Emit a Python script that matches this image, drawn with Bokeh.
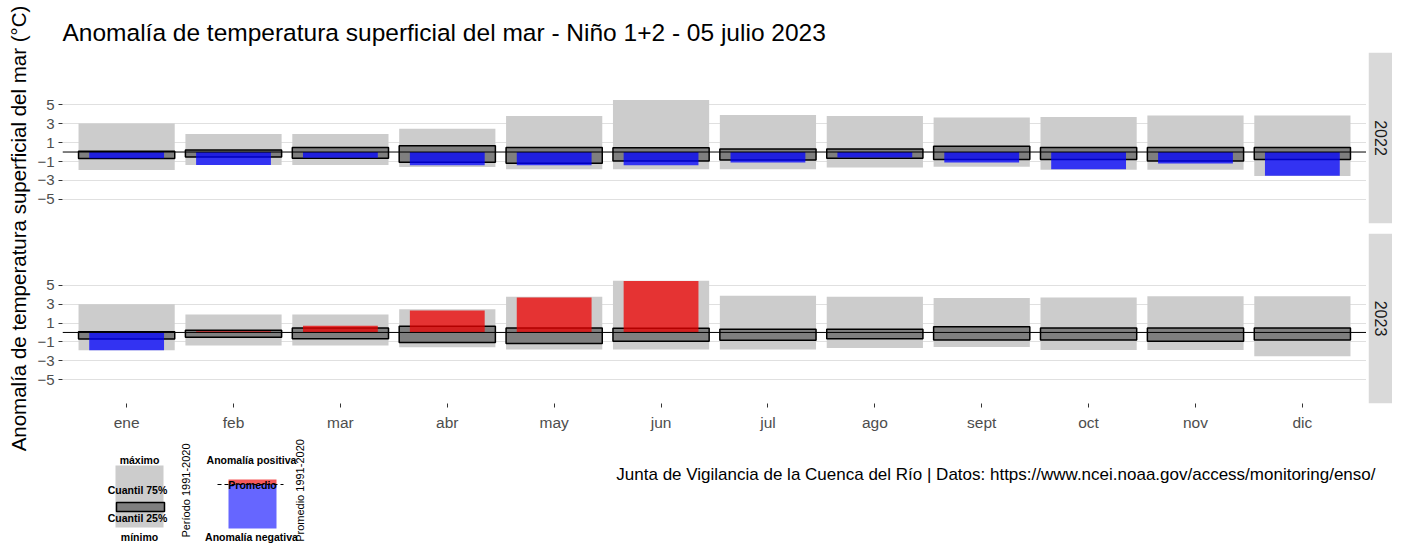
import math
from bokeh.plotting import figure
from bokeh.models import Range1d, FactorRange, FixedTicker, Span, Spacer
from bokeh.layouts import row, column
from bokeh.embed import file_html
from bokeh.resources import INLINE
from bokeh.core.properties import value

FONT = "Liberation Sans"

# ---------------- data ----------------
months = ["ene", "feb", "mar", "abr", "may", "jun",
          "jul", "ago", "sept", "oct", "nov", "dic"]
years = ["2022", "2023"]
# climatology 1991-2020 (range and quartiles)
clim_max = [3.0, 1.9, 1.9, 2.45, 3.8, 5.48, 3.9, 3.8, 3.65, 3.7, 3.85, 3.85]
clim_min = [-1.9, -1.38, -1.38, -1.58, -1.82, -1.82, -1.82, -1.64, -1.54, -1.86, -1.86, -2.53]
q75 = [0.08, 0.22, 0.48, 0.65, 0.48, 0.45, 0.33, 0.33, 0.61, 0.48, 0.48, 0.48]
q25 = [-0.69, -0.52, -0.66, -1.08, -1.18, -0.94, -0.83, -0.66, -0.8, -0.8, -0.94, -0.8]
# monthly anomalies
anom_2022 = [-0.65, -1.38, -0.6, -1.4, -1.4, -1.4, -1.11, -0.58, -1.11, -1.82, -1.22, -2.49]
anom_2023 = [-1.9, 0.12, 0.72, 2.32, 3.7, 5.46]
y_ticks = [5, 3, 1, -1, -3, -5]

title_text = "Anomalía de temperatura superficial del mar - Niño 1+2 - 05 julio 2023"
ylabel_text = "Anomalía de temperatura superficial del mar (°C)"
caption_text = ("Junta de Vigilancia de la Cuenca del Río | Datos: "
                "https://www.ncei.noaa.gov/access/monitoring/enso/")

GRAY_RANGE = "#cccccc"
GRAY_BOX = "#7f7f7f"
BLUE = "#0000ff"
RED = "#ee0000"

PANEL_W = 1304   # frame width of each facet panel
LEFT_B = 30      # room for y tick labels


def ref_fig(x0, x1, y0, y1, top=0, bottom=0):
    """Blank figure whose frame maps pixel-like layout coordinates."""
    p = figure(width=x1 - x0, height=(y1 - y0) + top + bottom,
               x_range=Range1d(x0, x1), y_range=Range1d(y1, y0),
               x_axis_type=None, y_axis_type=None,
               min_border_left=0, min_border_right=0,
               min_border_top=top, min_border_bottom=bottom,
               outline_line_color=None, toolbar_location=None,
               output_backend="svg")
    p.grid.visible = False
    return p


def panel(anoms, top_b, frame_h, bottom_b, show_x):
    p = figure(width=LEFT_B + PANEL_W, height=top_b + frame_h + bottom_b,
               x_range=FactorRange(factors=months, range_padding=0.1,
                                   range_padding_units="absolute"),
               y_range=Range1d(-7.54, 10.5),
               x_axis_location="below" if show_x else None,
               min_border_left=LEFT_B, min_border_right=0,
               min_border_top=top_b, min_border_bottom=bottom_b,
               outline_line_color=None, toolbar_location=None,
               output_backend="svg")
    p.xgrid.visible = False
    p.ygrid.grid_line_color = "#e0e0e0"
    p.ygrid.grid_line_width = 1.2
    p.yaxis.ticker = FixedTicker(ticks=y_ticks)
    p.yaxis.axis_line_color = None
    p.yaxis.major_tick_line_color = "#333333"
    p.yaxis.major_tick_out = 4
    p.yaxis.major_tick_in = 0
    p.yaxis.minor_tick_line_color = None
    p.yaxis.major_label_text_color = "#4d4d4d"
    p.yaxis.major_label_text_font = FONT
    p.yaxis.major_label_text_font_size = "15px"
    p.yaxis.major_label_standoff = 4
    if show_x:
        p.xaxis.axis_line_color = None
        p.xaxis.major_tick_line_color = "#333333"
        p.xaxis.major_tick_out = 4
        p.xaxis.major_tick_in = 0
        p.xaxis.major_label_text_color = "#4d4d4d"
        p.xaxis.major_label_text_font = FONT
        p.xaxis.major_label_text_font_size = "15.5px"
        p.xaxis.major_label_standoff = 6

    p.vbar(x=months, bottom=clim_min, top=clim_max, width=0.9,
           fill_color=GRAY_RANGE, line_color=None)
    p.vbar(x=months, bottom=q25, top=q75, width=0.9,
           fill_color=GRAY_BOX, line_color="black", line_width=1.5)
    cols = [RED if a > 0 else BLUE for a in anoms]
    p.vbar(x=months[:len(anoms)], bottom=0, top=anoms, width=0.7,
           fill_color=cols, fill_alpha=0.75, line_color=None)
    p.add_layout(Span(location=0, dimension="width", line_color="black",
                      line_width=1))
    return p


# facet panels: frames at y 52..223 and 233..403
fig1 = panel(anom_2022, 52, 171, 5, False)
fig1.title.text = title_text
fig1.title.text_font = FONT
fig1.title.text_font_size = "24.5px"
fig1.title.text_font_style = "normal"
fig1.title.text_color = "black"
fig1.title.align = "left"
fig1.title.standoff = 13

fig2 = panel(anom_2023, 5, 170, 35, True)

STRIP_X0 = 32 + LEFT_B + PANEL_W + 2
STRIP_X1 = 1392


def strip(s0, s1, top_b, bottom_b, label):
    s = ref_fig(STRIP_X0, STRIP_X1, s0, s1, top=top_b, bottom=bottom_b)
    s.quad(left=STRIP_X0, right=STRIP_X1, top=s0, bottom=s1,
           fill_color="#d9d9d9", line_color=None)
    s.text(x=[(STRIP_X0 + STRIP_X1) / 2], y=[(s0 + s1) / 2], text=[label],
           angle=-math.pi / 2, text_align="center", text_baseline="middle",
           text_font=value(FONT), text_font_size="16px", text_color="#1a1a1a")
    return s


strip1 = strip(52, 223, 52, 5, years[0])
strip2 = strip(233, 403, 5, 35, years[1])

# y axis title (spans both facets)
lab = ref_fig(0, 32, 0, 543)
lab.text(x=[18], y=[228], text=[ylabel_text], angle=math.pi / 2,
         text_align="center", text_baseline="middle",
         text_font=value(FONT), text_font_size="20.5px", text_color="black")

KEY_FONT = "10.5px"
SIDE_FONT = "11px"

# legend key 1 (climatology)
leg1 = ref_fig(100, 192, 438, 543)
leg1.quad(left=115, right=163, top=465, bottom=527,
          fill_color=GRAY_RANGE, line_color=None)
leg1.quad(left=116, right=164, top=502, bottom=511,
          fill_color=GRAY_BOX, line_color="black", line_width=1.5)
leg1.text(x=[139, 137, 137, 139], y=[459, 489, 517, 536],
          text=["máximo", "Cuantil 75%", "Cuantil 25%", "mínimo"],
          text_align="center", text_baseline="middle",
          text_font=value(FONT), text_font_size=KEY_FONT,
          text_font_style="bold", text_color="black")
leg1.text(x=[185], y=[490], text=["Período 1991-2020"], angle=math.pi / 2,
          text_align="center", text_baseline="middle",
          text_font=value(FONT), text_font_size=SIDE_FONT, text_color="black")

# legend key 2 (anomaly)
leg2 = ref_fig(202, 306, 438, 543)
leg2.quad(left=228, right=276, top=479, bottom=484,
          fill_color=RED, fill_alpha=0.65, line_color=None)
leg2.quad(left=228, right=276, top=484, bottom=528,
          fill_color=BLUE, fill_alpha=0.6, line_color=None)
leg2.segment(x0=[217], y0=[484], x1=[283], y1=[484],
             line_color="black", line_width=1, line_dash="4 3")
leg2.text(x=[251, 252, 251], y=[459, 484, 536],
          text=["Anomalía positiva", "Promedio", "Anomalía negativa"],
          text_align="center", text_baseline="middle",
          text_font=value(FONT), text_font_size=KEY_FONT,
          text_font_style="bold", text_color="black")
leg2.text(x=[299], y=[490], text=["Promedio 1991-2020"], angle=math.pi / 2,
          text_align="center", text_baseline="middle",
          text_font=value(FONT), text_font_size=SIDE_FONT, text_color="black")

# caption
cap = ref_fig(306, 1392, 438, 543)
cap.text(x=[1375], y=[474], text=[caption_text],
         text_align="right", text_baseline="middle",
         text_font=value(FONT), text_font_size="17px", text_color="black")

top_row = row(fig1, Spacer(width=2, height=228), strip1)
bot_row = row(fig2, Spacer(width=2, height=210), strip2)
bottom = row(Spacer(width=68, height=105), leg1,
             Spacer(width=10, height=105), leg2, cap)
layout = row(lab, column(top_row, bot_row, bottom))

open("out.html", "w").write(file_html(layout, INLINE))
